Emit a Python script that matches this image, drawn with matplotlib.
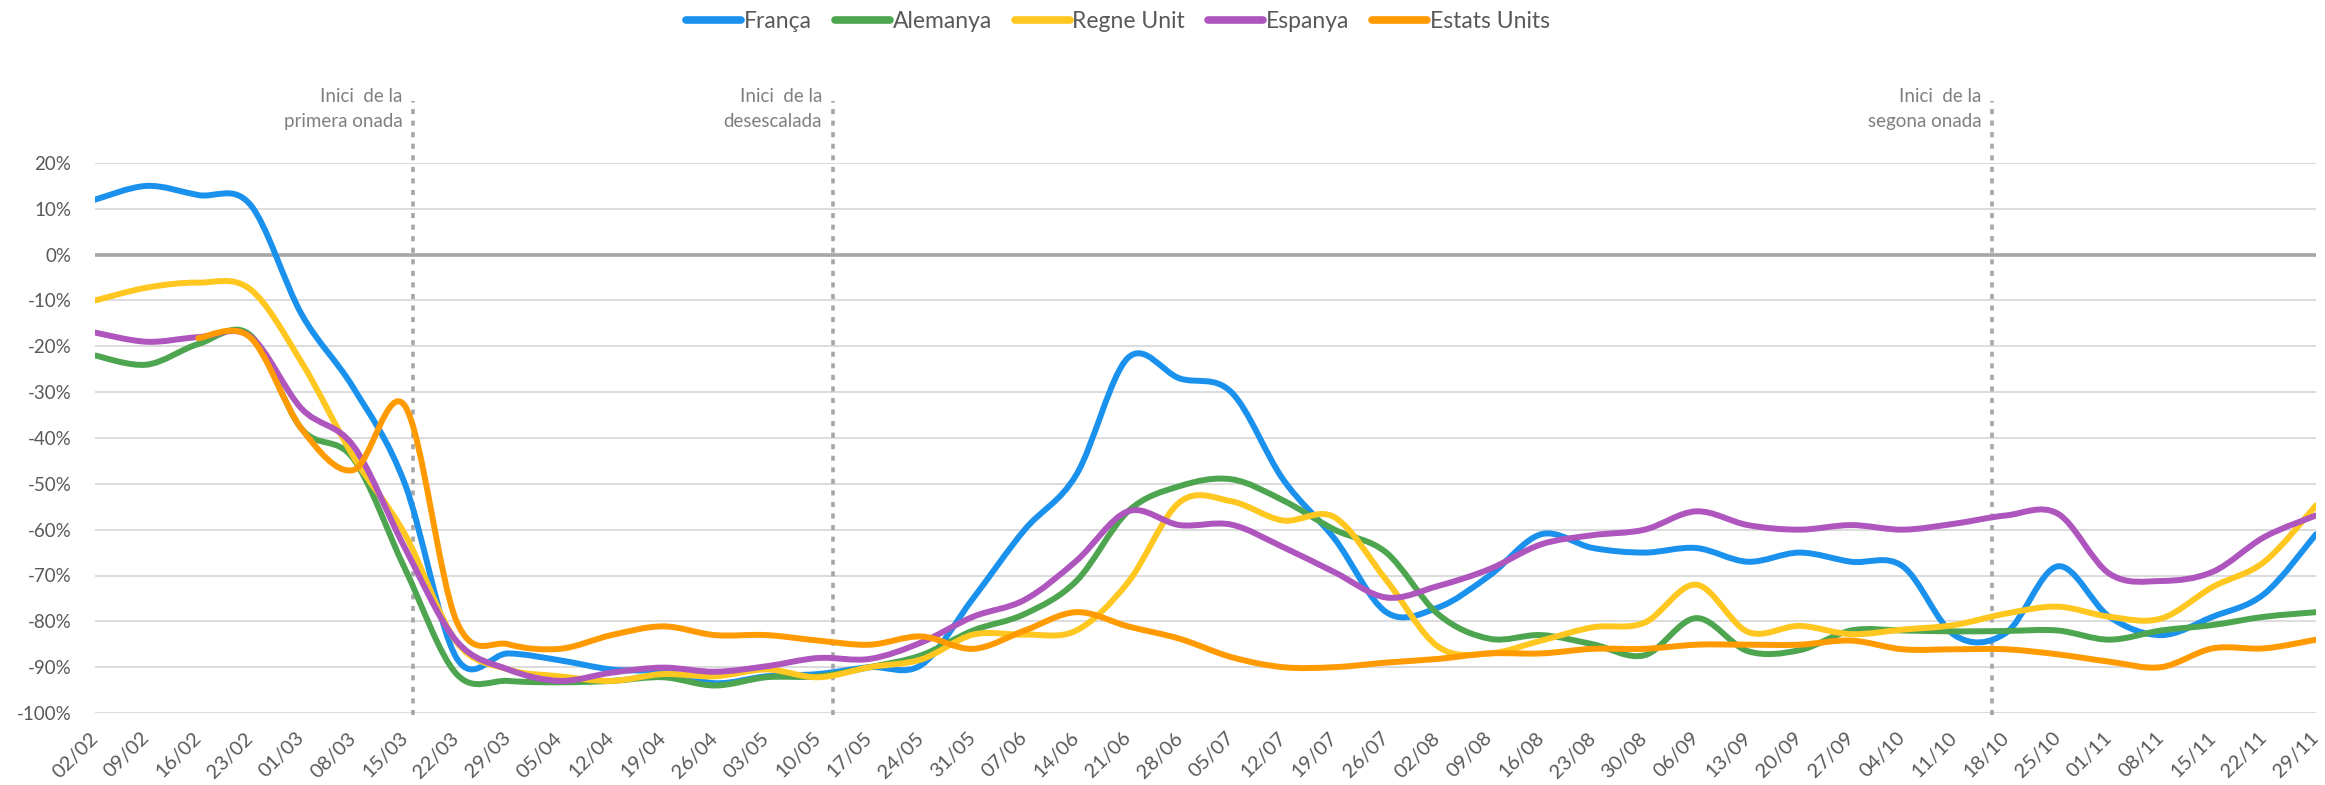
import numpy as np
import matplotlib
matplotlib.use("Agg")
import matplotlib.pyplot as plt
from matplotlib.path import Path
from matplotlib.patches import PathPatch
from matplotlib.lines import Line2D

plt.rcParams['font.family'] = ['Lato', 'DejaVu Sans']

# weekly dates (2020)
dates = ['02/02', '09/02', '16/02', '23/02', '01/03', '08/03', '15/03', '22/03', '29/03',
         '05/04', '12/04', '19/04', '26/04', '03/05', '10/05', '17/05', '24/05', '31/05',
         '07/06', '14/06', '21/06', '28/06', '05/07', '12/07', '19/07', '26/07', '02/08',
         '09/08', '16/08', '23/08', '30/08', '06/09', '13/09', '20/09', '27/09', '04/10',
         '11/10', '18/10', '25/10', '01/11', '08/11', '15/11', '22/11', '29/11']

franca = [12, 15, 13, 11, -13, -29, -50, -88, -87, -88.5, -90.5, -91, -93.5, -92, -91.5,
          -90, -89.5, -75, -60, -48, -22.5, -27, -30, -49, -62, -78, -77, -70, -61, -64, -65,
          -64, -67, -65, -67, -68, -83, -82.5, -68, -79, -83, -79, -74, -61]
alemanya = [-22, -24, -19.5, -17.5, -38, -44.5, -68.5, -91.5, -93, -93.3, -93, -92.2, -94,
            -92.2, -92, -90, -87.4, -82, -78.4, -71.2, -56, -50.5, -49, -53.6, -60, -65,
            -78.4, -83.8, -83, -85, -87.4, -79.3, -86.5, -86.3, -82, -82, -82.2, -82.1, -82,
            -84, -82, -80.8, -79, -78]
regne_unit = [-10, -7.2, -6.1, -7.5, -23.5, -44, -61, -84.5, -90.5, -92, -93, -91.5, -92,
              -90.5, -92.2, -90, -88.3, -82.9, -82.9, -82, -71.5, -54, -53.8, -58, -57.3,
              -71, -85.5, -87, -84.2, -81.3, -80.3, -72, -82.3, -81, -82.8, -81.8, -80.8,
              -78.3, -76.8, -79, -79.4, -72.5, -67, -54.7]
espanya = [-17, -19, -18, -17.8, -33.6, -41.7, -64, -84.3, -90.5, -93, -91.2, -90.1, -91,
           -89.8, -88, -88.2, -84.6, -79, -75.3, -66.8, -56, -59, -58.9, -63.8, -69.3, -74.8,
           -72.3, -68.6, -63.2, -61.2, -60, -56, -59, -60, -59, -60, -58.7, -56.9, -56.5,
           -69.6, -71.2, -69.2, -61.6, -56.9]
estats_units = [None, None, -18.2, -18, -38, -47, -33, -80, -85, -86, -83, -81.1, -83, -83,
                -84.2, -85.1, -83.3, -86, -82, -78, -81.1, -83.8, -87.8, -90, -90, -89, -88.2,
                -87, -87, -86, -86, -85.1, -85.1, -85.1, -84.2, -86.1, -86.1, -86.1, -87.2,
                -88.8, -90, -85.9, -85.9, -84]

series_names = ['França', 'Alemanya', 'Regne Unit', 'Espanya', 'Estats Units']
series_values = [franca, alemanya, regne_unit, espanya, estats_units]
colors = ['#1b91ee', '#4ea54f', '#ffc71f', '#ae55be', '#ff9a00']

# event markers: (position between weeks, first line, second line)
events = [(6.15, 'Inici  de la', 'primera onada'),
          (14.28, 'Inici  de la', 'desescalada'),
          (36.72, 'Inici  de la', 'segona onada')]


def smooth_path(xs, ys):
    # excel style smoothed line: catmull-rom segments as cubic beziers
    pts = np.column_stack([xs, ys])
    n = len(pts)
    verts = [pts[0]]
    codes = [Path.MOVETO]
    for i in range(n - 1):
        p0 = pts[max(i - 1, 0)]
        p1 = pts[i]
        p2 = pts[i + 1]
        p3 = pts[min(i + 2, n - 1)]
        c1 = p1 + (p2 - p0) / 6.0
        c2 = p2 - (p3 - p1) / 6.0
        verts += [c1, c2, p2]
        codes += [Path.CURVE4] * 3
    return Path(verts, codes)


fig = plt.figure(figsize=(23.25, 7.85), dpi=100)
ax = fig.add_axes([95 / 2325, 1 - 713 / 785, (2316 - 95) / 2325, (713 - 163) / 785])

x = np.arange(len(dates))
ax.set_xlim(0, len(dates) - 1)
ax.set_ylim(-100, 20)

yticks = list(range(-100, 30, 10))
ax.set_yticks(yticks)
ax.set_yticklabels([f'{v}%' for v in yticks])
ax.yaxis.grid(True, color='#d9d9d9', lw=1.3)
ax.set_axisbelow(True)
ax.axhline(0, color='#a6a6a6', lw=2.6, zorder=1)

ax.set_xticks(x)
ax.set_xticklabels(dates, rotation=45, ha='right', va='center', rotation_mode='anchor')
ax.tick_params(axis='both', length=0, colors='#595959')
ax.tick_params(axis='y', pad=17, labelsize=13.5)
ax.tick_params(axis='x', pad=16, labelsize=14.5)
for s in ax.spines.values():
    s.set_visible(False)

for vals, col in zip(series_values, colors):
    xs = [xi for xi, v in zip(x, vals) if v is not None]
    ys = [v for v in vals if v is not None]
    patch = PathPatch(smooth_path(xs, ys), facecolor='none', edgecolor=col, lw=4.3,
                      capstyle='round', joinstyle='round', zorder=3)
    ax.add_patch(patch)

for pos, line1, line2 in events:
    ax.plot([pos, pos], [-100.5, 33.5], color='#a6a6a6', lw=2.6,
            linestyle=(0, (1.4, 1.8)), dash_capstyle='butt', clip_on=False, zorder=2)
    ax.text(pos - 0.2, 34.6, line1, ha='right', va='center', color='#7f7f7f',
            fontsize=13.5, clip_on=False)
    ax.text(pos - 0.2, 29.0, line2, ha='right', va='center', color='#7f7f7f',
            fontsize=13.5, clip_on=False)

handles = [Line2D([], [], color=c, lw=5.5, solid_capstyle='round') for c in colors]
fig.legend(handles, series_names, loc='center', bbox_to_anchor=(1118 / 2325, 1 - 22 / 785),
           ncol=5, frameon=False, fontsize=16.5, handlelength=2.4, handletextpad=0.12,
           columnspacing=1.0, labelcolor='#595959')

fig.savefig('out.png', dpi=100, facecolor='white')
